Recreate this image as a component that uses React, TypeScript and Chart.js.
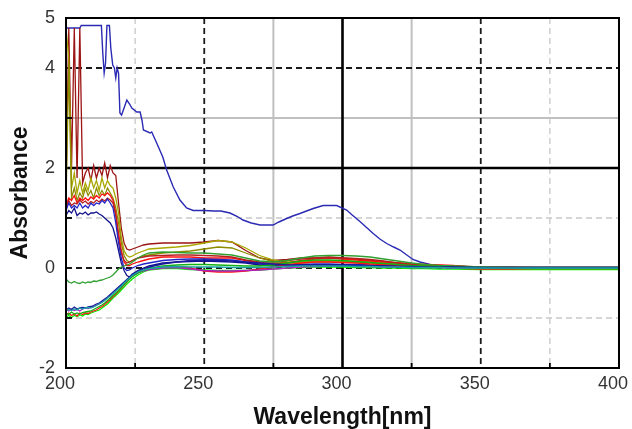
import React, { useEffect, useRef } from "react";
import { Chart, registerables } from "chart.js";

Chart.register(...registerables);

// Wavelength grid shared by most spectra (nm)
const WL = [
  200, 201, 202, 203, 204, 205, 206, 207, 208, 209,
  210, 211, 212, 213, 214, 215, 216, 217, 218, 219,
  220, 221, 222, 223, 224,
  226, 228, 230,
  235, 240, 245, 250, 255, 260, 265, 270, 275, 280, 285, 290, 295, 300, 305, 310, 315, 320, 325, 330, 335, 340,
  350, 360, 370, 380, 390, 400,
];

// Strongly absorbing sample (own wavelength sampling)
const BIG_BLUE_X = [
  200, 205, 205.5, 212.8, 213.3, 213.8, 214.3, 214.8, 215.7, 216.2, 216.9, 217.5, 218.0, 218.5, 219.0, 219.5,
  220.1, 221.0, 222.0, 223.0, 223.8, 225.6, 226.8, 227.5, 228.0, 230.4, 231.0, 232.8, 235.0, 236.4, 238.8,
  241.2, 243.6, 246.0, 250.0, 253.5, 256.0, 259.3, 262.0, 264.0, 267.0, 270.2, 274.9, 277.0, 279.8, 282.0,
  284.6, 287.0, 289.4, 293.0, 297.9, 301.5, 303.5, 306.3, 308.5, 311.1, 313.5, 316.0, 318.5, 320.8, 323.0,
  325.5, 328.0, 331.7, 335.0, 338.0, 343.6, 350, 360, 370, 380, 390, 400,
];
const BIG_BLUE_Y = [
  4.8, 4.8, 4.85, 4.85, 4.3, 3.9, 4.1, 4.85, 4.85, 4.4, 4.06, 4.0, 3.8, 4.0, 3.9, 3.1,
  3.06, 3.2, 3.36, 3.28, 3.2, 3.12, 3.12, 2.95, 2.76, 2.7, 2.72, 2.5, 2.22, 1.96, 1.62,
  1.36, 1.2, 1.15, 1.15, 1.14, 1.14, 1.1, 1.03, 0.96, 0.9, 0.86, 0.86, 0.92, 0.99, 1.04,
  1.09, 1.14, 1.19, 1.25, 1.25, 1.16, 1.06, 0.93, 0.82, 0.69, 0.58, 0.49, 0.42, 0.36, 0.27,
  0.17, 0.12, 0.07, 0.04, 0.03, 0.03, 0.01, 0.01, 0.01, 0.01, 0.01, 0.01,
];

// Upper group (values on WL)
const DARK_RED_A = [
  1.5, 4.8, 2.0, 4.8, 1.8, 4.8, 1.7, 1.9, 2.0, 1.75,
  2.05, 1.8, 2.0, 1.85, 2.1, 1.8, 2.05, 1.9, 1.85, 1.3,
  0.8, 0.5, 0.38, 0.36, 0.38,
  0.42, 0.46, 0.48,
  0.5, 0.5, 0.5, 0.52, 0.55, 0.52, 0.35, 0.2, 0.15, 0.17, 0.2, 0.2, 0.22, 0.2, 0.18, 0.15, 0.12, 0.1, 0.08, 0.06, 0.05, 0.04,
  0.02, 0.02, 0.01, 0.01, 0.01, 0.01,
];
const OLIVE_A = [
  4.8, 4.2, 1.6, 1.9, 1.5, 1.75, 1.5, 1.7, 1.55, 1.8,
  1.6, 1.75, 1.55, 1.8, 1.6, 1.75, 1.65, 1.6, 1.4, 1.1,
  0.6, 0.35, 0.25, 0.22, 0.24,
  0.3, 0.34, 0.38,
  0.4, 0.42, 0.45, 0.5, 0.55, 0.52, 0.4, 0.25, 0.16, 0.12, 0.12, 0.14, 0.15, 0.14, 0.13, 0.12, 0.1, 0.08, 0.06, 0.05, 0.04, 0.03,
  0.02, 0.01, 0.01, 0.01, 0.01, 0.01,
];
const OLIVE_B = [
  1.3, 4.1, 1.4, 1.6, 1.35, 1.5, 1.4, 1.6, 1.45, 1.55,
  1.4, 1.6, 1.45, 1.55, 1.45, 1.6, 1.5, 1.4, 1.2, 0.9,
  0.5, 0.25, 0.15, 0.12, 0.15,
  0.2, 0.24, 0.26,
  0.3, 0.32, 0.34, 0.38, 0.42, 0.4, 0.3, 0.2, 0.13, 0.1, 0.1, 0.12, 0.12, 0.12, 0.11, 0.1, 0.08, 0.07, 0.05, 0.04, 0.03, 0.02,
  0.01, 0.01, 0.01, 0.01, 0.01, 0.01,
];
const RED_A = [
  1.25, 1.4, 1.35, 1.45, 1.3, 1.4, 1.35, 1.4, 1.35, 1.42,
  1.38, 1.45, 1.4, 1.48, 1.45, 1.5, 1.45, 1.35, 1.1, 0.7,
  0.35, 0.12, 0.05, 0.05, 0.08,
  0.12, 0.15, 0.18,
  0.22, 0.22, 0.22, 0.2, 0.2, 0.2, 0.15, 0.1, 0.08, 0.1, 0.15, 0.18, 0.2, 0.18, 0.16, 0.14, 0.12, 0.1, 0.08, 0.07, 0.06, 0.05,
  0.0, -0.01, -0.01, -0.01, -0.01, -0.01,
];
const DARK_RED_B = [
  1.2, 1.35, 1.25, 1.3, 1.28, 1.36, 1.3, 1.34, 1.28, 1.33,
  1.3, 1.36, 1.32, 1.38, 1.34, 1.4, 1.36, 1.3, 1.05, 0.6,
  0.3, 0.15, 0.1, 0.12, 0.15,
  0.2, 0.22, 0.24,
  0.25, 0.26, 0.26, 0.25, 0.24, 0.22, 0.16, 0.12, 0.12, 0.15, 0.18, 0.2, 0.2, 0.2, 0.19, 0.17, 0.14, 0.1, 0.07, 0.05, 0.04, 0.03,
  0.01, 0.0, 0.0, 0.0, 0.0, 0.0,
];
const BLUE_B = [
  1.15, 1.3, 1.2, 1.25, 1.2, 1.3, 1.2, 1.25, 1.2, 1.3,
  1.25, 1.3, 1.28, 1.35, 1.3, 1.38, 1.3, 1.2, 0.9, 0.5,
  0.2, 0.0, -0.05, -0.04, 0.0,
  0.05, 0.08, 0.1,
  0.15, 0.17, 0.18, 0.18, 0.17, 0.16, 0.12, 0.08, 0.06, 0.06, 0.07, 0.08, 0.08, 0.07, 0.07, 0.06, 0.05, 0.04, 0.03, 0.03, 0.02, 0.02,
  0.01, 0.01, 0.01, 0.01, 0.01, 0.01,
];
const NAVY_C = [
  1.05, 1.15, 1.1, 1.2, 1.05, 1.1, 1.08, 1.12, 1.06, 1.1,
  1.1, 1.12, 1.08, 1.05, 1.0, 0.95, 0.9, 0.8, 0.6, 0.35,
  0.1, -0.05, -0.15, -0.18, -0.12,
  -0.05, 0.0, 0.04,
  0.1, 0.12, 0.13, 0.14, 0.13, 0.12, 0.1, 0.06, 0.04, 0.05, 0.06, 0.06, 0.06, 0.06, 0.05, 0.05, 0.04, 0.04, 0.03, 0.03, 0.02, 0.02,
  0.0, 0.0, 0.0, 0.0, 0.0, 0.0,
];

// Green sample starting slightly negative
const DARK_GREEN = [
  -0.22, -0.28, -0.3, -0.27, -0.3, -0.31, -0.28, -0.3, -0.28, -0.29,
  -0.26, -0.27, -0.25, -0.24, -0.22, -0.2, -0.18, -0.14, -0.08, -0.02,
  0.02, 0.04, 0.06, 0.08, 0.12,
  0.2, 0.26, 0.3,
  0.32, 0.31, 0.3, 0.3, 0.28, 0.26, 0.2, 0.14, 0.12, 0.15, 0.2, 0.24, 0.25, 0.25, 0.24, 0.22, 0.18, 0.14, 0.1, 0.07, 0.05, 0.04,
  0.02, 0.01, 0.01, 0.01, 0.01, 0.01,
];

// Lower group (negative start)
const NAVY_LOW = [
  -0.84, -0.8, -0.83, -0.78, -0.82, -0.8, -0.79, -0.8, -0.78, -0.77,
  -0.75, -0.72, -0.7, -0.66, -0.62, -0.58, -0.53, -0.48, -0.43, -0.38,
  -0.33, -0.28, -0.23, -0.18, -0.14,
  -0.07, -0.02, 0.02,
  0.08, 0.12, 0.15, 0.16, 0.15, 0.14, 0.12, 0.1, 0.08, 0.06, 0.06, 0.06, 0.06, 0.05, 0.05, 0.04, 0.04, 0.03, 0.03, 0.02, 0.02, 0.02,
  0.01, 0.01, 0.01, 0.01, 0.01, 0.01,
];
const TEAL_LOW = [
  -0.86, -0.83, -0.85, -0.82, -0.84, -0.8, -0.82, -0.8, -0.79, -0.8,
  -0.78, -0.75, -0.72, -0.69, -0.65, -0.6, -0.56, -0.51, -0.46, -0.41,
  -0.36, -0.3, -0.25, -0.2, -0.15,
  -0.08, -0.04, -0.01,
  0.02, 0.03, 0.02, 0.02, 0.02, 0.01, 0.01, 0.01, 0.02, 0.03, 0.04, 0.04, 0.04, 0.04, 0.03, 0.03, 0.02, 0.02, 0.01, 0.01, 0.01, 0.0,
  0.0, 0.0, 0.0, 0.0, 0.0, 0.0,
];
const MAGENTA_LOW = [
  -0.82, -0.86, -0.82, -0.85, -0.83, -0.86, -0.82, -0.8, -0.81, -0.78,
  -0.77, -0.74, -0.72, -0.68, -0.64, -0.6, -0.55, -0.5, -0.45, -0.4,
  -0.35, -0.3, -0.25, -0.2, -0.16,
  -0.1, -0.06, -0.03,
  0.0, 0.01, -0.02, -0.05, -0.06, -0.06, -0.05, -0.04, -0.02, 0.0, 0.02, 0.03, 0.04, 0.04, 0.03, 0.03, 0.02, 0.02, 0.01, 0.01, 0.01, 0.0,
  0.0, 0.0, 0.0, 0.0, 0.0, 0.0,
];
const GREEN_LOW = [
  -0.9, -0.93, -0.88, -0.92, -0.9, -0.92, -0.89, -0.88, -0.87, -0.86,
  -0.83, -0.8, -0.77, -0.74, -0.7, -0.65, -0.6, -0.55, -0.5, -0.45,
  -0.39, -0.33, -0.27, -0.22, -0.17,
  -0.1, -0.05, -0.01,
  0.04, 0.06, 0.07, 0.07, 0.06, 0.05, 0.04, 0.04, 0.06, 0.1, 0.14, 0.16, 0.16, 0.15, 0.13, 0.11, 0.09, 0.07, 0.05, 0.04, 0.03, 0.02,
  0.0, 0.0, 0.0, 0.0, 0.0, 0.0,
];
const RED_LOW = [
  -0.94, -0.9, -0.95, -0.92, -0.96, -0.9, -0.93, -0.9, -0.91, -0.88,
  -0.86, -0.84, -0.8, -0.77, -0.73, -0.68, -0.63, -0.57, -0.52, -0.46,
  -0.4, -0.34, -0.28, -0.22, -0.17,
  -0.1, -0.05, -0.02,
  0.02, 0.03, 0.0, -0.06, -0.08, -0.08, -0.06, -0.02, 0.02, 0.06, 0.1, 0.12, 0.12, 0.11, 0.1, 0.08, 0.07, 0.06, 0.05, 0.04, 0.02, 0.0,
  -0.02, -0.02, -0.01, -0.01, -0.01, -0.01,
];
const BRIGHT_GREEN_LOW = [
  -0.98, -0.95, -0.99, -0.95, -0.97, -0.94, -0.96, -0.92, -0.93, -0.9,
  -0.88, -0.86, -0.84, -0.8, -0.76, -0.72, -0.66, -0.6, -0.55, -0.5,
  -0.44, -0.38, -0.32, -0.27, -0.22,
  -0.14, -0.08, -0.04,
  -0.01, -0.01, -0.03, -0.04, -0.05, -0.05, -0.05, -0.04, -0.02, 0.0, 0.01, 0.02, 0.02, 0.02, 0.01, 0.01, 0.0, 0.0, -0.01, -0.01, -0.02, -0.02,
  -0.03, -0.03, -0.03, -0.03, -0.03, -0.03,
];

// Draw order (bottom to top) and colours
const WL_SERIES = [
  TEAL_LOW, NAVY_LOW, GREEN_LOW, MAGENTA_LOW, RED_LOW, BRIGHT_GREEN_LOW,
  DARK_GREEN, NAVY_C, BLUE_B, DARK_RED_B, RED_A, OLIVE_B, OLIVE_A, DARK_RED_A,
];
const WL_COLORS = [
  "#1aa3a3", "#1a1a9c", "#12b012", "#b020c0", "#ff1414", "#00f000",
  "#30a030", "#12128c", "#2424c8", "#b42020", "#ff1010", "#8c8c00", "#a8a800", "#9c1414",
];
const BIG_BLUE_COLOR = "#2a2ab4";

const X_LABELS = [200, 250, 300, 350, 400];
const Y_LABELS = [-2, 0, 2, 4, 5];
const X_MINOR = [225, 275, 325, 375];
const Y_MINOR = [-1, 1, 3];

const gridPlugin = {
  id: "customGrid",
  beforeDatasetsDraw(chart: any) {
    const { ctx, chartArea: a, scales } = chart;
    const x = scales.x;
    const y = scales.y;
    const hLine = (v: number, color: string, lw: number, dash: number[]) => {
      const py = y.getPixelForValue(v);
      ctx.beginPath();
      ctx.setLineDash(dash);
      ctx.strokeStyle = color;
      ctx.lineWidth = lw;
      ctx.moveTo(a.left, py);
      ctx.lineTo(a.right, py);
      ctx.stroke();
    };
    const vLine = (v: number, color: string, lw: number, dash: number[]) => {
      const px = x.getPixelForValue(v);
      ctx.beginPath();
      ctx.setLineDash(dash);
      ctx.strokeStyle = color;
      ctx.lineWidth = lw;
      ctx.moveTo(px, a.top);
      ctx.lineTo(px, a.bottom);
      ctx.stroke();
    };
    ctx.save();
    const lightGrey = "#c8c8c8";
    const grey = "#c0c0c0";
    const dark = "#1a1a1a";
    hLine(1, lightGrey, 1.3, [6, 4]);
    hLine(-1, lightGrey, 1.3, [6, 4]);
    vLine(225, lightGrey, 1.3, [6, 4]);
    vLine(375, lightGrey, 1.3, [6, 4]);
    hLine(3, grey, 2, []);
    vLine(275, grey, 2, []);
    vLine(325, grey, 2, []);
    hLine(4, dark, 1.8, [6, 4]);
    hLine(0, dark, 1.8, [6, 4]);
    vLine(250, dark, 1.8, [6, 4]);
    vLine(350, dark, 1.8, [6, 4]);
    hLine(2, "#000", 2.6, []);
    vLine(300, "#000", 2.6, []);
    ctx.restore();
  },
  afterDatasetsDraw(chart: any) {
    const { ctx, chartArea: a, scales } = chart;
    const x = scales.x;
    const y = scales.y;
    ctx.save();
    ctx.setLineDash([]);
    ctx.strokeStyle = "#000";
    ctx.lineWidth = 2;
    ctx.strokeRect(a.left, a.top, a.right - a.left, a.bottom - a.top);
    ctx.lineWidth = 1.8;
    X_MINOR.forEach((v) => {
      const px = x.getPixelForValue(v);
      ctx.beginPath();
      ctx.moveTo(px, a.bottom);
      ctx.lineTo(px, a.bottom - 5);
      ctx.stroke();
    });
    Y_MINOR.forEach((v) => {
      const py = y.getPixelForValue(v);
      ctx.beginPath();
      ctx.moveTo(a.left, py);
      ctx.lineTo(a.left + 6, py);
      ctx.stroke();
    });
    ctx.restore();
  },
};

export default function App() {
  const ref = useRef<HTMLCanvasElement>(null);

  useEffect(() => {
    if (!ref.current) return;
    const datasets: any[] = WL_SERIES.map((vals, i) => ({
      data: WL.map((w, j) => ({ x: w, y: vals[j] })),
      borderColor: WL_COLORS[i],
      borderWidth: 1.3,
      pointRadius: 0,
      fill: false,
      tension: 0,
    }));
    datasets.push({
      data: BIG_BLUE_X.map((w, j) => ({ x: w, y: BIG_BLUE_Y[j] })),
      borderColor: BIG_BLUE_COLOR,
      borderWidth: 1.4,
      pointRadius: 0,
      fill: false,
      tension: 0,
    });

    const tickFont = { family: "'Liberation Sans', Arial, sans-serif", size: 18 };
    const titleFont = { family: "'Liberation Sans', Arial, sans-serif", size: 23, weight: "bold" as const, lineHeight: 1 };

    const chart = new Chart(ref.current, {
      type: "line",
      data: { datasets },
      options: {
        animation: false,
        responsive: false,
        maintainAspectRatio: false,
        layout: { padding: { top: 18, right: 13, left: 0, bottom: 0 } },
        plugins: { legend: { display: false }, tooltip: { enabled: false } },
        scales: {
          x: {
            type: "linear",
            min: 200,
            max: 400,
            afterBuildTicks: (s: any) => {
              s.ticks = X_LABELS.map((v) => ({ value: v }));
            },
            afterFit: (s: any) => {
              s.height = 61;
              s.paddingLeft = 0;
              s.paddingRight = 0;
            },
            grid: { display: false, drawTicks: false },
            border: { display: false },
            ticks: {
              autoSkip: false,
              maxRotation: 0,
              padding: 5,
              labelOffset: -6,
              color: "#333",
              font: tickFont,
              callback: (v: any) => String(v),
            },
            title: {
              display: true,
              text: "Wavelength[nm]",
              color: "#111",
              font: titleFont,
              padding: { top: 0, bottom: 0 },
            },
          },
          y: {
            type: "linear",
            min: -2,
            max: 5,
            afterBuildTicks: (s: any) => {
              s.ticks = Y_LABELS.map((v) => ({ value: v }));
            },
            afterFit: (s: any) => {
              s.width = 66;
              s.paddingTop = 0;
              s.paddingBottom = 0;
            },
            grid: { display: false, drawTicks: false },
            border: { display: false },
            ticks: {
              padding: 11,
              color: "#333",
              font: tickFont,
              callback: (v: any) => String(v),
            },
            title: {
              display: true,
              text: "Absorbance",
              color: "#111",
              font: titleFont,
              padding: { top: 9, bottom: 0 },
            },
          },
        },
      },
      plugins: [gridPlugin],
    });
    return () => chart.destroy();
  }, []);

  return (
    <div style={{ position: "absolute", left: 0, top: 0, width: 632, height: 429, background: "#fff" }}>
      <canvas ref={ref} width={632} height={429} style={{ display: "block" }} />
    </div>
  );
}
